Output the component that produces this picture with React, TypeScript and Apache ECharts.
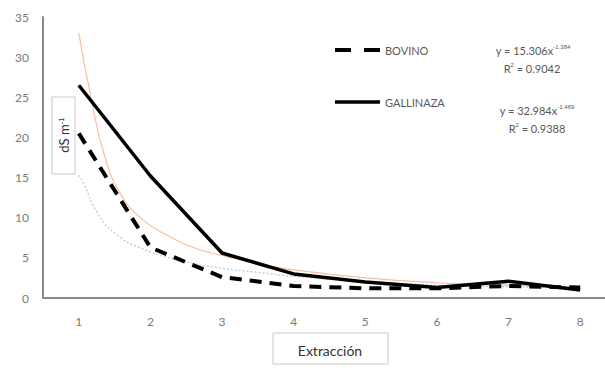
import React, { useEffect, useRef } from "react";
import * as echarts from "echarts";

const categories = ["1", "2", "3", "4", "5", "6", "7", "8"];
const bovino = [20.5, 6.3, 2.6, 1.5, 1.2, 1.2, 1.5, 1.3];
const gallinaza = [26.5, 15.2, 5.6, 3.0, 2.0, 1.3, 2.1, 1.0];

// trend curves: [x, y]
const trendGallinaza: [number, number][] = [
  [1, 33], [1.17, 25], [1.35, 18], [1.58, 13], [1.9, 9.7], [2.28, 7.6], [2.66, 6.1],
  [3, 5.3], [3.5, 4.3], [4, 3.5], [5, 2.5], [6, 1.9], [7, 1.6], [8, 1.3],
];
const trendBovino: [number, number][] = [
  [1, 15.3], [1.07, 14.2], [1.26, 10.6], [1.54, 7.8], [1.9, 6.1], [2.4, 4.7], [3, 3.7],
  [3.5, 3.2], [4, 2.7], [5, 2.1], [6, 1.6], [7, 1.4], [8, 1.2],
];

const FONT = "Lato, 'Open Sans', sans-serif";
const GREY = "#595959";

export default function App() {
  const ref = useRef<HTMLDivElement>(null);
  useEffect(() => {
    const chart = echarts.init(ref.current!, undefined, { renderer: "svg" });
    const eqStyle = (text: string) => ({
      text,
      rich: { s: { fontSize: 6, fill: GREY, padding: [0, 0, 7, 0] } },
      fontSize: 11,
      fontFamily: FONT,
      fill: GREY,
      align: "center",
      verticalAlign: "middle",
    });
    chart.setOption({
      animation: false,
      backgroundColor: "#fff",
      grid: { left: 43, top: 17, width: 573, height: 281, outerBoundsMode: "none", containLabel: false },
      xAxis: [
        {
          type: "category",
          data: categories,
          boundaryGap: true,
          axisLine: { lineStyle: { color: "#8a8a8a", width: 2 } },
          axisTick: { show: false },
          axisLabel: { color: "#7a7a7a", fontSize: 12, fontFamily: FONT, margin: 17 },
        },
        {
          type: "value",
          min: 0.5,
          max: 8.5,
          show: false,
        },
      ],
      yAxis: {
        type: "value",
        min: 0,
        max: 35,
        interval: 5,
        axisLine: { show: true, lineStyle: { color: "#8a8a8a", width: 2 } },
        axisTick: { show: false },
        splitLine: { show: false },
        axisLabel: { color: "#7a7a7a", fontSize: 12, fontFamily: FONT, margin: 14 },
      },
      series: [
        {
          name: "Tendencia GALLINAZA",
          type: "line",
          xAxisIndex: 1,
          data: trendGallinaza,
          smooth: true,
          symbol: "none",
          lineStyle: { color: "#f6bfa0", width: 1.2 },
          z: 1,
        },
        {
          name: "Tendencia BOVINO",
          type: "line",
          xAxisIndex: 1,
          data: trendBovino,
          smooth: true,
          symbol: "none",
          lineStyle: { color: "#a9cbe8", width: 1.2, type: [2, 2] },
          z: 1,
        },
        {
          name: "BOVINO",
          type: "line",
          data: bovino,
          symbol: "none",
          lineStyle: { color: "#000", width: 4, type: [12, 8] },
          z: 3,
        },
        {
          name: "GALLINAZA",
          type: "line",
          data: gallinaza,
          symbol: "none",
          lineStyle: { color: "#000", width: 3.5 },
          z: 3,
        },
      ],
      graphic: [
        {
          type: "rect",
          shape: { x: 52, y: 97, width: 23, height: 77 },
          style: { fill: "#fff", stroke: "#c8c8c8", lineWidth: 1 },
          z: 10,
        },
        {
          type: "text",
          x: 64,
          y: 135,
          rotation: Math.PI / 2,
          style: {
            text: "dS m{s|-1}",
            rich: { s: { fontSize: 8, verticalAlign: "top", fill: "#333", padding: [0, 0, 6, 0] } },
            fontSize: 13,
            fontFamily: FONT,
            fill: "#333",
            align: "center",
            verticalAlign: "middle",
          },
          z: 11,
        },
        {
          type: "rect",
          shape: { x: 273, y: 333, width: 115, height: 31 },
          style: { fill: "#fff", stroke: "#c8c8c8", lineWidth: 1 },
          z: 10,
        },
        {
          type: "text",
          x: 330,
          y: 350,
          style: {
            text: "Extracción",
            fontSize: 14,
            fontFamily: FONT,
            fill: "#333",
            align: "center",
            verticalAlign: "middle",
          },
          z: 11,
        },
        {
          type: "line",
          shape: { x1: 335, y1: 50, x2: 380, y2: 50 },
          style: { stroke: "#000", lineWidth: 4, lineDash: [16, 13] },
          z: 10,
        },
        {
          type: "text",
          x: 385,
          y: 50,
          style: { text: "BOVINO", fontSize: 11, fontFamily: FONT, fill: GREY, verticalAlign: "middle" },
          z: 10,
        },
        {
          type: "line",
          shape: { x1: 335, y1: 102, x2: 380, y2: 102 },
          style: { stroke: "#000", lineWidth: 3.5 },
          z: 10,
        },
        {
          type: "text",
          x: 385,
          y: 102,
          style: { text: "GALLINAZA", fontSize: 11, fontFamily: FONT, fill: GREY, verticalAlign: "middle" },
          z: 10,
        },
        { type: "text", x: 533, y: 50, style: eqStyle("y = 15.306x{s|-1.384}"), z: 10 },
        { type: "text", x: 532, y: 68, style: eqStyle("R{s|2} = 0.9042"), z: 10 },
        { type: "text", x: 537, y: 110, style: eqStyle("y = 32.984x{s|-1.469}"), z: 10 },
        { type: "text", x: 537, y: 128, style: eqStyle("R{s|2} = 0.9388"), z: 10 },
      ],
    });
    return () => chart.dispose();
  }, []);
  return <div ref={ref} style={{ width: 605, height: 370, position: "absolute", left: 0, top: 0 }} />;
}
